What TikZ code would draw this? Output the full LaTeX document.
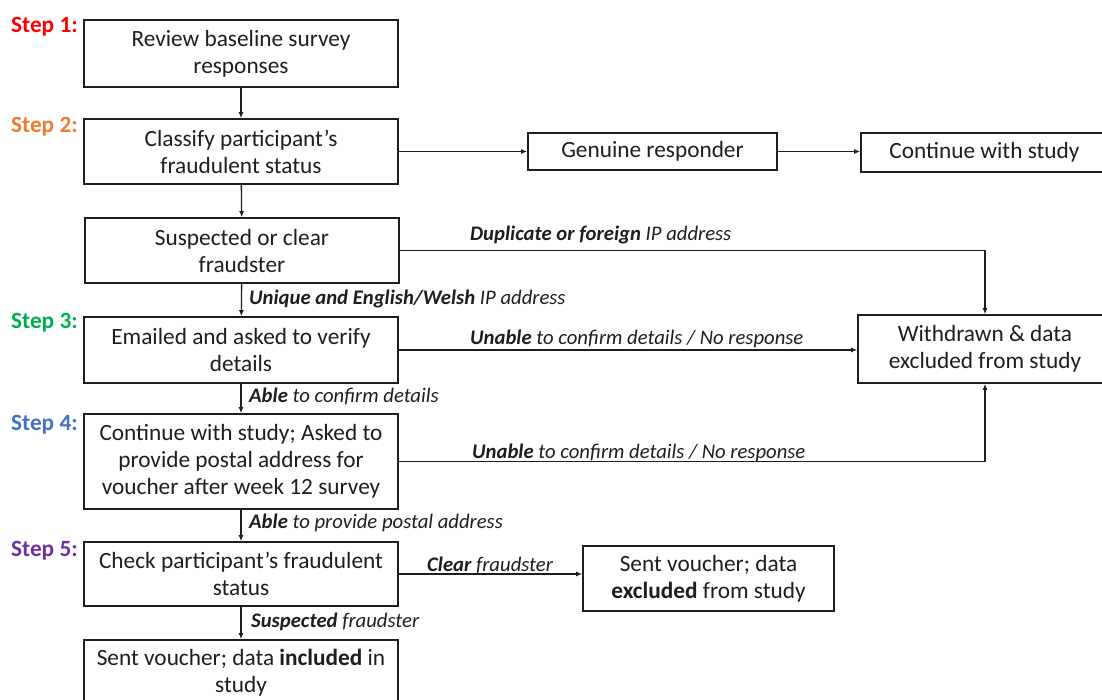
\documentclass[tikz,border=0pt]{standalone}
\usepackage{fontspec}
\setmainfont{Carlito}
\usetikzlibrary{arrows.meta}
\definecolor{sone}{RGB}{255,0,0}
\definecolor{stwo}{RGB}{237,125,49}
\definecolor{sthree}{RGB}{0,176,80}
\definecolor{sfour}{RGB}{68,114,196}
\definecolor{sfive}{RGB}{112,48,160}
\definecolor{ink}{RGB}{30,30,30}
\begin{document}
\begin{tikzpicture}[x=1pt,y=-1pt,
  box/.style={draw=ink, line width=1.6pt, align=center, inner sep=0pt,
    font=\fontsize{23.3}{27}\selectfont, text=ink},
  conn/.style={line width=1.3pt, draw=ink, -{Latex[length=6pt,width=5pt]}},
  lbl/.style={font=\fontsize{20.7}{24}\selectfont\itshape, anchor=west, inner sep=0pt, text=ink},
  steplbl/.style={font=\fontsize{23.3}{27}\selectfont\bfseries, anchor=west, inner sep=0pt}]
\useasboundingbox (0,0) rectangle (1102,700);
\clip (0,0) rectangle (1102,700);
\fill[white] (0,0) rectangle (1102,700);

% step labels
\node[steplbl, text=sone]   (st1) at (11,27)  {Step 1:};
\node[steplbl, text=stwo]   (st2) at (11,127) {Step 2:};
\node[steplbl, text=sthree] (st3) at (11,323) {Step 3:};
\node[steplbl, text=sfour]  (st4) at (11,425) {Step 4:};
\node[steplbl, text=sfive]  (st5) at (11,551) {Step 5:};

% main column
\node[box, minimum width=314pt, minimum height=67pt] (b1) at (241,53.5) {Review baseline survey\\responses};
\node[box, minimum width=314pt, minimum height=65pt] (b2) at (241,151.5) {Classify participant’s\\fraudulent status};
\node[box, minimum width=314pt, minimum height=65pt] (b3) at (242,250.5) {Suspected or clear\\fraudster};
\node[box, minimum width=314pt, minimum height=66pt] (b4) at (241,350) {Emailed and asked to verify\\details};
\node[box, minimum width=314pt, minimum height=95pt] (b5) at (241,461.5) {Continue with study; Asked to\\provide postal address for\\voucher after week 12 survey};
\node[box, minimum width=314pt, minimum height=64pt] (b6) at (241,574) {Check participant’s fraudulent\\status};
\node[box, minimum width=314pt, minimum height=66pt] (b7) at (241,673) {Sent voucher; data \textbf{included} in\\study};

% right side
\node[box, minimum width=249pt, minimum height=37pt] (gen) at (652.5,151.5) {Genuine responder};
\node[box, minimum width=247pt, minimum height=39pt] (cont) at (984.5,152.5) {Continue with study};
\node[box, minimum width=254pt, minimum height=68pt] (wd) at (985,349) {Withdrawn \& data\\excluded from study};
\node[box, minimum width=251pt, minimum height=65pt] (sx) at (708.5,578.5) {Sent voucher; data\\\textbf{excluded} from study};

% connectors
\draw[conn] (b1) -- (b2);
\draw[conn] (b2) -- (b3);
\draw[conn] (b3) -- (b4);
\draw[conn] (b4) -- (b5);
\draw[conn] (b5) -- (b6);
\draw[conn] (b6) -- (b7);
\draw[conn] (b2.east) -- (b2.east -| gen.west);
\draw[conn] (gen.east) -- (gen.east -| cont.west);
\draw[conn] (b3.east) -| (wd.north);
\draw[conn] (b4.east) -- (b4.east -| wd.west);
\draw[conn] (b5.east) -| (wd.south);
\draw[conn] (b6.east) -- (b6.east -| sx.west);

% connector labels
\node[lbl] (l1) at (470,235) {\textbf{Duplicate or foreign} IP address};
\node[lbl] (l2) at (249,299) {\textbf{Unique and English/Welsh} IP address};
\node[lbl] (l3) at (470,339) {\textbf{Unable} to confirm details / No response};
\node[lbl] (l4) at (249,396) {\textbf{Able} to confirm details};
\node[lbl] (l5) at (472,453) {\textbf{Unable} to confirm details / No response};
\node[lbl] (l6) at (249,523) {\textbf{Able} to provide postal address};
\node[lbl] (l7) at (427,565) {\textbf{Clear} fraudster};
\node[lbl] (l8) at (251,622) {\textbf{Suspected} fraudster};
\end{tikzpicture}
\end{document}
